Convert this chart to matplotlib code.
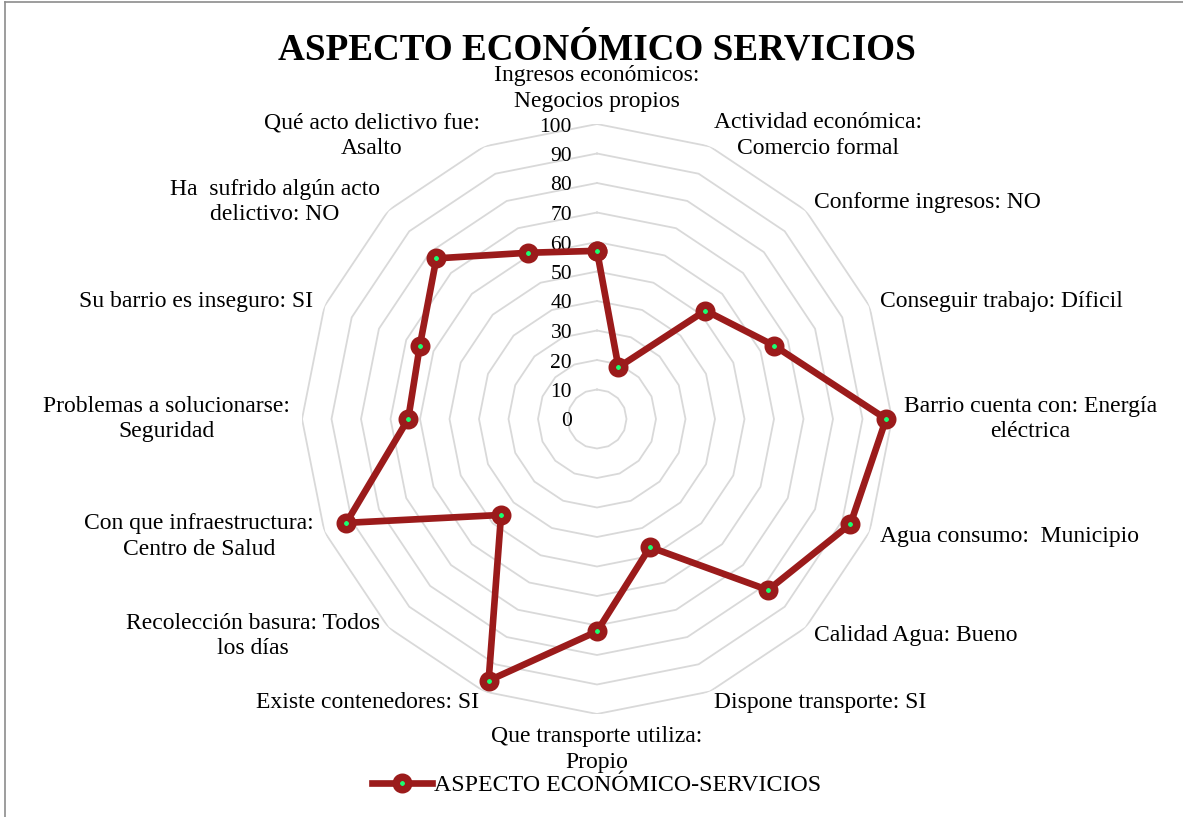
import numpy as np
import matplotlib
matplotlib.use("Agg")
import matplotlib.pyplot as plt
from matplotlib.lines import Line2D

categories = [
    "Ingresos económicos:\nNegocios propios",
    "Actividad económica:\nComercio formal",
    "Conforme ingresos: NO",
    "Conseguir trabajo: Díficil",
    "Barrio cuenta con: Energía\neléctrica",
    "Agua consumo:  Municipio",
    "Calidad Agua: Bueno",
    "Dispone transporte: SI",
    "Que transporte utiliza:\nPropio",
    "Existe contenedores: SI",
    "Recolección basura: Todos\nlos días",
    "Con que infraestructura:\nCentro de Salud",
    "Problemas a solucionarse:\nSeguridad",
    "Su barrio es inseguro: SI",
    "Ha  sufrido algún acto\ndelictivo: NO",
    "Qué acto delictivo fue:\nAsalto",
]
values = [57, 19, 52, 65, 98, 93, 82, 47, 72, 96, 46, 92, 64, 65, 77, 61]
ring_levels = [10, 20, 30, 40, 50, 60, 70, 80, 90, 100]
tick_labels = ["0", "10", "20", "30", "40", "50", "60", "70", "80", "90", "100"]
series_name = "ASPECTO ECONÓMICO-SERVICIOS"
title = "ASPECTO ECONÓMICO SERVICIOS"

plt.rcParams['font.family'] = ['Liberation Serif', 'DejaVu Serif']

W, H = 1183, 817
fig = plt.figure(figsize=(W / 100, H / 100), dpi=100)
cx, cy, R = 597, 419, 295
ax = fig.add_axes([(cx - R) / W, (H - cy - R) / H, 2 * R / W, 2 * R / H], projection='polar')
ax.set_theta_offset(np.pi / 2)
ax.set_theta_direction(-1)
ax.set_ylim(0, 100)
ax.grid(False)
ax.set_xticks([])
ax.set_yticks([])
ax.spines['polar'].set_visible(False)
ax.patch.set_alpha(0)

n = len(categories)
theta = np.arange(n) * 2 * np.pi / n
theta_closed = np.append(theta, theta[0])

for lv in ring_levels:
    ax.plot(theta_closed, [lv] * (n + 1), color='#d9d9d9', lw=1.3, zorder=1)

vals_closed = values + values[:1]
ax.plot(theta_closed, vals_closed, color='#9B1B1B', lw=4.8, zorder=3,
        marker='o', markersize=9.0, markeredgewidth=5.4,
        markerfacecolor='#1AFF70', markeredgecolor='#9B1B1B', label=series_name,
        solid_joinstyle='miter', clip_on=False)

# radial tick labels
for i, lab in enumerate(tick_labels):
    ax.annotate(lab, xy=(0, i * 10), xytext=(-25, -3), textcoords='offset pixels',
                ha='right', va='center', fontsize=15.5, color='#000000', zorder=2)

# category labels
label_r = 104
for t, lab in zip(theta, categories):
    deg = np.degrees(t) % 360
    if abs(deg) < 1:
        ha, va = 'center', 'bottom'
    elif abs(deg - 180) < 1:
        ha, va = 'center', 'top'
    elif deg < 180:
        ha, va = 'left', 'center'
    else:
        ha, va = 'right', 'center'
    ax.text(t, label_r, lab, ha=ha, va=va, multialignment='center',
            fontsize=17, linespacing=1.3, color='#000000')

fig.text(cx / W, 1 - 50 / H, title, ha='center', va='center',
         fontsize=26.7, fontweight='bold')

fig.legend(loc='center', bbox_to_anchor=(cx / W, 1 - 785 / H), frameon=False,
           fontsize=17.2, handlelength=2.5, handletextpad=0.1)

# chart area border
fig.add_artist(Line2D([5 / W, 1], [1 - 2 / H, 1 - 2 / H], color='#8c8c8c', lw=1.2))
fig.add_artist(Line2D([5 / W, 5 / W], [0, 1 - 2 / H], color='#8c8c8c', lw=1.2))

fig.savefig('out.png', dpi=100)
